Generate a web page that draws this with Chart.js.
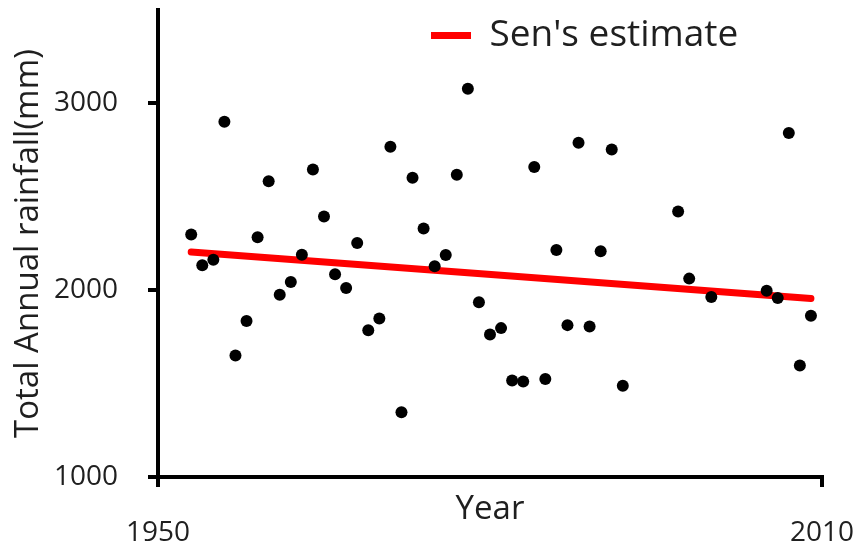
<!DOCTYPE html>
<html>
<head>
<meta charset="utf-8">
<script src="https://cdn.jsdelivr.net/npm/chart.js@4.4.1/dist/chart.umd.min.js"></script>
<style>
  html, body { margin: 0; padding: 0; background: #ffffff; }
  #wrap { width: 860px; height: 549px; }
</style>
</head>
<body>
<div id="wrap"><canvas id="c" width="860" height="549"></canvas></div>
<script>
// ---- data ----
const years = [1953,1954,1955,1956,1957,1958,1959,1960,1961,1962,1963,1964,1965,1966,1967,1968,1969,1970,
               1971,1972,1973,1974,1975,1976,1977,1978,1979,1980,1981,1982,1983,1984,1985,1986,1987,1988,
               1989,1990,1991,1992,1997,1998,2000,2005,2006,2007,2008,2009];
const rainfall = [2298,2133,2163,2902,1651,1835,2283,2583,1976,2044,2190,2646,2394,2085,2012,2253,1786,1849,
                  2768,1347,2602,2330,2128,2189,2618,3079,1935,1763,1797,1516,1511,2660,1525,2215,1813,2789,
                  1806,2208,2753,1488,2421,2062,1964,1997,1958,2841,1597,1863];
const senYears = [1953, 2009];
const senValues = [2205, 1956];
const xTicks = [1950, 2010];
const yTicks = [1000, 2000, 3000];
const seriesName = "Sen's estimate";
const xTitle = "Year";
const yTitle = "Total Annual rainfall(mm)";

const FONT = "'Open Sans', 'Liberation Sans', sans-serif";
const TXT = '#1f1f1f';

const legendShift = {
  id: 'legendShift',
  afterLayout(chart) {
    const l = chart.legend;
    if (!l) return;
    const pad = l.options.labels.padding;
    const dx = 431 - (l.left + pad);
    const dy = 17 - (l.top + pad);
    l.left += dx;
    l.right += dx;
    l.top += dy;
    l.bottom += dy;
  }
};

new Chart(document.getElementById('c'), {
  data: {
    datasets: [
      {
        type: 'scatter',
        label: 'Annual rainfall',
        data: years.map((y, i) => ({ x: y, y: rainfall[i] })),
        backgroundColor: '#000000',
        borderColor: '#000000',
        pointRadius: 6,
        pointHoverRadius: 6,
        borderWidth: 0
      },
      {
        type: 'line',
        label: seriesName,
        data: senYears.map((y, i) => ({ x: y, y: senValues[i] })),
        borderColor: '#ff0000',
        backgroundColor: '#ff0000',
        borderWidth: 7,
        borderCapStyle: 'round',
        pointRadius: 0,
        fill: false
      }
    ]
  },
  options: {
    responsive: false,
    animation: false,
    devicePixelRatio: 1,
    layout: { padding: { top: 10, right: 38, left: 0, bottom: 0 } },
    plugins: {
      tooltip: { enabled: false },
      legend: {
        position: 'chartArea',
        align: 'start',
        labels: {
          filter: (item) => item.text === seriesName,
          usePointStyle: true,
          pointStyle: 'line',
          pointStyleWidth: 40,
          padding: 6,
          color: TXT,
          font: { family: FONT, size: 37 }
        }
      }
    },
    scales: {
      x: {
        type: 'linear',
        min: 1950,
        max: 2010,
        afterBuildTicks: (s) => { s.ticks = xTicks.map(v => ({ value: v })); },
        afterFit: (s) => { s.height = 72; s.paddingLeft = 0; s.paddingRight = 0; },
        border: { display: true, color: '#000000', width: 4 },
        grid: { display: true, drawOnChartArea: false, drawTicks: true, tickLength: 10, lineWidth: 4, color: '#000000' },
        ticks: { color: TXT, font: { family: FONT, size: 28 }, padding: 29, maxRotation: 0, callback: (v) => String(v) },
        title: { display: true, text: xTitle, color: TXT, font: { family: FONT, size: 33 }, padding: { top: 0, bottom: 20 } }
      },
      y: {
        type: 'linear',
        min: 1000,
        max: 3500,
        afterBuildTicks: (s) => { s.ticks = yTicks.map(v => ({ value: v })); },
        afterFit: (s) => { s.width = 158; s.paddingTop = 0; s.paddingBottom = 0; },
        border: { display: true, color: '#000000', width: 4 },
        grid: { display: true, drawOnChartArea: false, drawTicks: true, tickLength: 10, lineWidth: 4, color: '#000000' },
        ticks: { color: TXT, font: { family: FONT, size: 28 }, padding: 30, callback: (v) => String(v) },
        title: { display: true, text: yTitle, color: TXT, font: { family: FONT, size: 33 }, padding: { top: 9, bottom: 0 } }
      }
    }
  },
  plugins: [legendShift]
});
</script>
</body>
</html>
